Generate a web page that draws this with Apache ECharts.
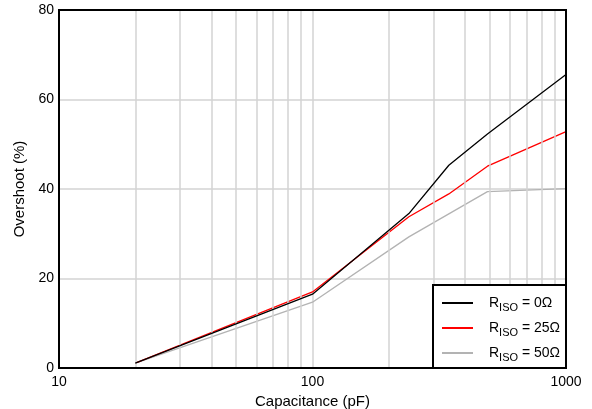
<!DOCTYPE html>
<html>
<head>
<meta charset="utf-8">
<script src="https://cdn.jsdelivr.net/npm/echarts@6/dist/echarts.min.js"></script>
<style>
html,body{margin:0;padding:0;background:#fff;}
#chart{width:592px;height:409px;}
</style>
</head>
<body>
<div id="chart"></div>
<script>
// Data
var capacitance = [20, 100, 240, 345, 490, 1000];
var riso0  = [1.1, 16.5, 34.5, 45.3, 52.3, 65.6];
var riso25 = [1.1, 17.0, 33.8, 38.9, 45.1, 52.8];
var riso50 = [1.1, 14.7, 29.3, null, 39.4, 40.1];
var seriesNames = ['RISO = 0Ω', 'RISO = 25Ω', 'RISO = 50Ω'];
var legendSuffix = [' = 0Ω', ' = 25Ω', ' = 50Ω'];
var minorGridValues = [20, 30, 40, 50, 60, 70, 80, 90, 200, 300, 400, 500, 600, 700, 800, 900];
var yTicks = [0, 20, 40, 60, 80];

function pairs(ys) {
  return capacitance.map(function (x, i) { return [x, ys[i]]; });
}

var chart = echarts.init(document.getElementById('chart'), null, {renderer: 'canvas'});
var font = 'Liberation Sans, Arial, sans-serif';
var gridColor = '#d3d3d3';

chart.setOption({
  animation: false,
  backgroundColor: '#fff',
  textStyle: {fontFamily: font},
  grid: {left: 59, right: 26, top: 10, bottom: 41, show: false, containLabel: false, outerBoundsMode: 'none'},
  xAxis: {
    type: 'log', logBase: 10, min: 10, max: 1000,
    name: 'Capacitance (pF)', nameLocation: 'middle', nameGap: 24,
    nameTextStyle: {fontSize: 15, color: '#000', fontFamily: font},
    axisLine: {show: true, lineStyle: {color: '#000', width: 2}},
    axisTick: {show: false},
    axisLabel: {fontSize: 14, color: '#000', margin: 7, fontFamily: font,
      formatter: function (v) { return String(v); }},
    splitLine: {show: true, lineStyle: {color: gridColor, width: 1.5}}
  },
  yAxis: {
    type: 'value', min: 0, max: 80, interval: 20,
    name: 'Overshoot (%)', nameLocation: 'middle', nameGap: 30,
    nameTextStyle: {fontSize: 15, color: '#000', fontFamily: font},
    axisLine: {show: true, lineStyle: {color: '#000', width: 2}},
    axisTick: {show: false},
    axisLabel: {fontSize: 14, color: '#000', margin: 5, fontFamily: font,
      formatter: function (v) { return yTicks.indexOf(v) >= 0 ? String(v) : ''; }},
    splitLine: {show: true, lineStyle: {color: gridColor, width: 1.5}}
  },
  legend: {
    orient: 'vertical', left: 437, top: 288, itemGap: 5,
    itemWidth: 31, itemHeight: 2, icon: 'rect', z: 20,
    data: seriesNames,
    formatter: function (name) {
      var i = seriesNames.indexOf(name);
      return '{r|R}{s|ISO}{r|' + legendSuffix[i] + '}';
    },
    textStyle: {
      color: '#000', fontFamily: font, padding: [0, 0, 0, 11],
      rich: {
        r: {fontSize: 14, lineHeight: 18, color: '#000', fontFamily: font},
        s: {fontSize: 11, lineHeight: 18, color: '#000', fontFamily: font, padding: [9, 0, 0, 0]}
      }
    }
  },
  graphic: [
    {
      type: 'rect', z: 10,
      shape: {x: 433, y: 285, width: 133, height: 83},
      style: {fill: '#fff', stroke: '#000', lineWidth: 2}
    },
    {
      type: 'rect', z: 15,
      shape: {x: 59, y: 10, width: 507, height: 358},
      style: {fill: 'none', stroke: '#000', lineWidth: 2}
    }
  ],
  series: [
    {
      name: 'minor grid', type: 'line', data: [], z: 1, silent: true,
      markLine: {
        silent: true, symbol: 'none', label: {show: false},
        lineStyle: {color: gridColor, width: 1.5, type: 'solid'},
        data: minorGridValues.map(function (v) { return {xAxis: v}; })
      }
    },
    {name: seriesNames[2], type: 'line', data: pairs(riso50), connectNulls: true, showSymbol: false, symbol: 'none', z: 3,
     lineStyle: {color: '#b3b3b3', width: 1.3}, itemStyle: {color: '#b3b3b3'}},
    {name: seriesNames[1], type: 'line', data: pairs(riso25), showSymbol: false, symbol: 'none', z: 4,
     lineStyle: {color: '#ff0000', width: 1.3}, itemStyle: {color: '#ff0000'}},
    {name: seriesNames[0], type: 'line', data: pairs(riso0), showSymbol: false, symbol: 'none', z: 5,
     lineStyle: {color: '#000', width: 1.3}, itemStyle: {color: '#000'}}
  ]
});
</script>
</body>
</html>
